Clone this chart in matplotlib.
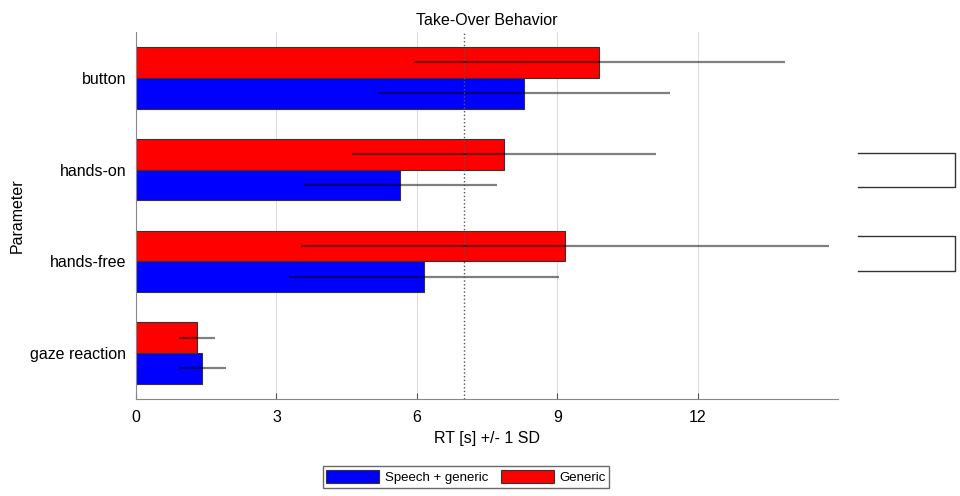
import numpy as np
import matplotlib
import matplotlib.pyplot as plt

matplotlib.rcParams['font.family'] = 'Liberation Sans'
matplotlib.rcParams['font.size'] = 11.5

# data (RT in seconds, mean and 1 SD)
params = ['button', 'hands-on', 'hands-free', 'gaze reaction']
speech_mean = [8.3, 5.65, 6.15, 1.42]
speech_sd = [3.1, 2.06, 2.88, 0.5]
generic_mean = [9.9, 7.87, 9.17, 1.30]
generic_sd = [3.97, 3.25, 5.64, 0.38]
threshold = 7.0

# significance brackets (y in data units)
brackets = [(2.18, 1.81), (1.28, 0.895)]

fig = plt.figure(figsize=(9.6, 4.96), dpi=100)
ax = fig.add_axes([0.1417, 0.1956, 0.7313, 0.74])

y = np.arange(len(params))[::-1]
h = 0.335

ax.barh(y - h/2, speech_mean, height=h, color='#0000ff', edgecolor='#333333',
        lw=0.8, label='Speech + generic', zorder=2)
ax.barh(y + h/2, generic_mean, height=h, color='#ff0000', edgecolor='#333333',
        lw=0.8, label='Generic', zorder=2)

# error bars: mean +/- 1 SD
ax.errorbar(speech_mean, y - h/2, xerr=speech_sd, fmt='none', ecolor='k',
            alpha=0.5, elinewidth=1.6, capsize=0, zorder=3)
ax.errorbar(generic_mean, y + h/2, xerr=generic_sd, fmt='none', ecolor='k',
            alpha=0.5, elinewidth=1.6, capsize=0, zorder=3)

ax.axvline(threshold, color='#555555', ls=':', lw=1, zorder=4)

# brackets on the right, outside the axes
for top, bot in brackets:
    ax.plot([15.43, 17.5, 17.5, 15.43], [top, top, bot, bot], color='#333333',
            lw=1, clip_on=False)

ax.set_xlim(0, 15)
ax.set_ylim(-0.5, 3.5)
ax.set_xticks([0, 3, 6, 9, 12])
ax.set_yticks(y)
ax.set_yticklabels(params)
ax.tick_params(axis='y', length=0, pad=7)
ax.tick_params(axis='x', direction='in', length=4, color='#555555', pad=8)
ax.grid(axis='x', color='#dddddd', lw=0.8, zorder=0)
ax.set_axisbelow(True)
for s in ['top', 'right']:
    ax.spines[s].set_visible(False)
for s in ['left', 'bottom']:
    ax.spines[s].set_color('#888888')

ax.set_xlabel('RT [s] +/- 1 SD', labelpad=4)
ax.set_ylabel('Parameter', labelpad=4)
ax.set_title('Take-Over Behavior', fontsize=11.5, pad=5)

handles, labels = ax.get_legend_handles_labels()
fig.legend(handles, labels, loc='center', bbox_to_anchor=(466/960, 1 - 477/496),
           ncol=2, fontsize=9.5, frameon=True, fancybox=False, edgecolor='#444444',
           handlelength=4.0, handleheight=1.2, handletextpad=0.4,
           columnspacing=1.0, borderpad=0.3, borderaxespad=0)

plt.savefig('out.png', dpi=100)
